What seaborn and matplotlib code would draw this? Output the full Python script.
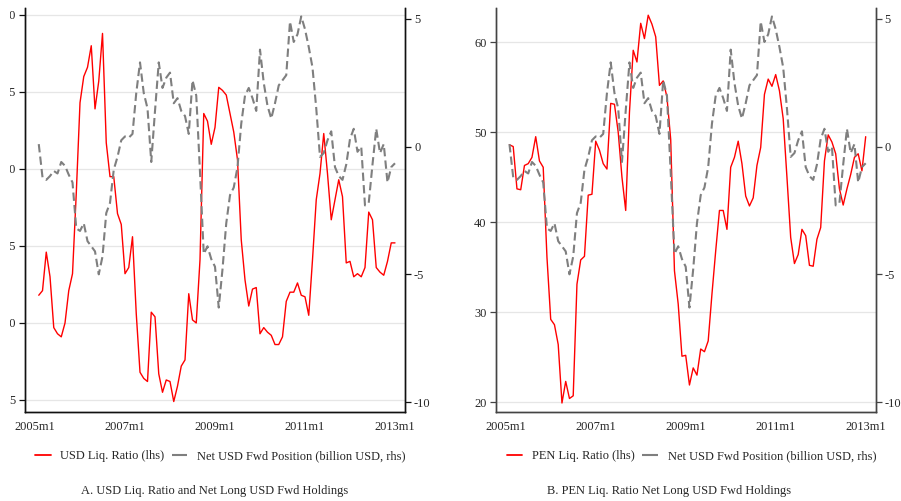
import numpy as np
import pandas as pd
import matplotlib
matplotlib.use("Agg")
import matplotlib.pyplot as plt
from matplotlib.transforms import Bbox, TransformedBbox
from matplotlib.lines import Line2D
import seaborn as sns

sns.set_style("white")
plt.rcParams["font.family"] = ["Liberation Serif", "DejaVu Serif"]
plt.rcParams["axes.unicode_minus"] = False

# month index counted from 2005m1 = 0 ; series run 2005m2 .. 2013m1
month_idx = list(range(1, 97))

usd_liq = [11.8, 12.1, 14.6, 13.0, 9.7, 9.3, 9.1, 10.0, 12.1, 13.2, 18.4, 24.3,
           26.0, 26.6, 28.0, 23.9, 25.7, 28.8, 21.7, 19.5, 19.5, 17.1, 16.4, 13.2,
           13.6, 15.6, 10.6, 6.8, 6.4, 6.2, 10.7, 10.4, 6.7, 5.5, 6.3, 6.2,
           4.9, 5.9, 7.2, 7.6, 11.9, 10.2, 10.0, 14.1, 23.6, 23.1, 21.6, 22.7,
           25.3, 25.1, 24.8, 23.6, 22.4, 20.6, 15.4, 12.8, 11.1, 12.2, 12.3, 9.3,
           9.7, 9.4, 9.2, 8.6, 8.6, 9.1, 11.4, 12.0, 12.0, 12.6, 11.8, 11.7,
           10.5, 14.1, 18.0, 19.7, 22.3, 19.7, 16.7, 18.0, 19.3, 18.2, 13.9, 14.0,
           13.0, 13.2, 13.0, 13.6, 17.2, 16.7, 13.6, 13.3, 13.1, 14.0, 15.2, 15.2]

pen_liq = [48.6, 48.4, 43.7, 43.6, 46.3, 46.5, 47.2, 49.5, 46.8, 46.1, 36.1, 29.2,
           28.6, 26.4, 19.9, 22.3, 20.4, 20.7, 33.1, 35.8, 36.2, 43.0, 43.1, 49.0,
           48.0, 46.5, 45.9, 53.2, 53.1, 50.0, 45.0, 41.3, 52.2, 59.1, 57.8, 62.1,
           60.4, 63.0, 62.0, 60.6, 55.2, 55.7, 53.9, 49.2, 34.6, 30.9, 25.1, 25.2,
           21.9, 23.8, 23.0, 25.9, 25.6, 26.8, 32.0, 36.8, 41.3, 41.3, 39.2, 46.1,
           47.2, 49.0, 46.5, 42.9, 41.8, 42.7, 46.3, 48.3, 54.2, 55.9, 55.1, 56.4,
           54.6, 51.5, 45.0, 38.3, 35.4, 36.4, 39.2, 38.5, 35.2, 35.1, 38.1, 39.4,
           46.8, 49.7, 48.9, 47.6, 43.7, 41.9, 43.7, 45.3, 47.2, 47.6, 45.7, 49.5]

net_fwd = [0.1, -1.2, -1.3, -1.15, -0.95, -1.05, -0.6, -0.75, -1.1, -1.4, -3.2, -3.3,
           -3.0, -3.7, -3.9, -4.1, -5.0, -4.3, -2.6, -2.2, -0.9, -0.4, 0.25, 0.4,
           0.35, 0.5, 2.1, 3.3, 2.1, 1.5, -0.6, 1.4, 3.3, 2.3, 2.7, 2.9,
           1.7, 1.9, 1.4, 1.2, 0.5, 2.6, 2.0, -1.0, -4.2, -3.9, -4.4, -4.7,
           -6.3, -4.8, -3.0, -1.9, -1.6, -0.8, 0.9, 2.0, 2.3, 1.9, 1.4, 3.8,
           2.5, 1.6, 1.1, 1.7, 2.4, 2.6, 2.8, 4.9, 4.1, 4.4, 5.1, 4.6,
           3.9, 3.1, 1.5, -0.4, -0.25, 0.25, 0.6, -0.8, -1.15, -1.3, -0.7, 0.3,
           0.7, -0.2, 0.0, -2.3, -2.2, -0.7, 0.7, -0.25, 0.1, -1.4, -0.8, -0.65]

xtick_pos = [0, 24, 48, 72, 96]
xtick_labels = ["2005m1", "2007m1", "2009m1", "2011m1", "2013m1"]

df = pd.DataFrame({"m": month_idx, "usd": usd_liq, "pen": pen_liq, "fwd": net_fwd})

W, H = 901, 501
fig = plt.figure(figsize=(W / 100, H / 100), dpi=100)
fs = 8.9
red = "#ff0000"
gray = "#7f7f7f"
dash = (0, (4, 2))


def panel(x0, col, lticks, lylim, spine_col, red_label, title, leg_cx, title_cx):
    ax = fig.add_axes([x0 / W, 89 / H, 380 / W, 404 / H])
    sns.lineplot(data=df, x="m", y=col, ax=ax, color=red, lw=1.0)
    ax.set_ylim(*lylim)
    ax.set_yticks(lticks)
    ax.set_xlim(-2.67, 98.67)
    ax.set_xticks(xtick_pos)
    ax.set_xticklabels(xtick_labels)
    ax.yaxis.grid(True, color="#e6e6e6", lw=0.9)
    ax.set_axisbelow(True)
    ax.set_xlabel("")
    ax.set_ylabel("")
    ax2 = ax.twinx()
    sns.lineplot(data=df, x="m", y="fwd", ax=ax2, color=gray, lw=1.5, linestyle=dash)
    ax2.set_ylim(-10.39, 5.43)
    ax2.set_yticks([5, 0, -5, -10])
    ax2.set_ylabel("")
    for a in (ax, ax2):
        a.spines["top"].set_visible(False)
        for s in ("left", "right", "bottom"):
            a.spines[s].set_color(spine_col)
            a.spines[s].set_linewidth(1.0)
        a.tick_params(axis="both", direction="out", length=4, width=0.9,
                      color=spine_col, labelsize=fs, pad=2.5)
    handles = [Line2D([], [], color=red, lw=1.3),
               Line2D([], [], color=gray, lw=1.5, linestyle=(0, (9, 2)))]
    fig.legend(handles, [red_label, "Net USD Fwd Position (billion USD, rhs)"],
               loc="center", bbox_to_anchor=(leg_cx / W, 45 / H), ncol=2,
               frameon=False, fontsize=fs, handlelength=1.25, handletextpad=0.8,
               columnspacing=0.6)
    fig.text(title_cx / W, 10 / H, title, ha="center", va="center", fontsize=fs)
    return ax


axA = panel(25, "usd", [30, 25, 20, 15, 10, 5], (4.22, 30.45), "#111111",
            "USD Liq. Ratio (lhs)", "A. USD Liq. Ratio and Net Long USD Fwd Holdings",
            220.5, 215)
axB = panel(495.7, "pen", [20, 30, 40, 50, 60], (18.9, 63.8), "#444444",
            "PEN Liq. Ratio (lhs)", "B. PEN Liq. Ratio Net Long USD Fwd Holdings",
            691.5, 669.5)

# the left edge of panel A is cut in the source, only the last digit shows
clip = TransformedBbox(Bbox([[0.10, 0], [0.40, 5.01]]), fig.dpi_scale_trans)
for t in axA.get_yticklabels():
    t.set_clip_box(clip)
    t.set_clip_on(True)

fig.savefig("out.png", dpi=100)
